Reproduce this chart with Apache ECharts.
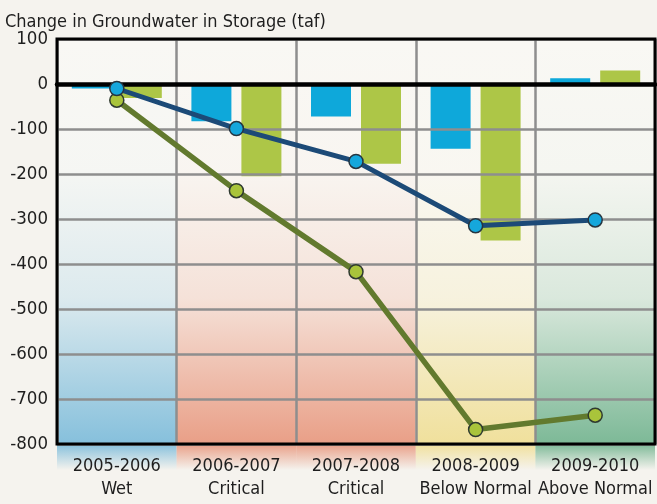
<!DOCTYPE html>
<html>
<head>
<meta charset="utf-8">
<style>
  html, body { margin: 0; padding: 0; background: #f5f3ee; }
  #chart { width: 657px; height: 504px; }
</style>
<script src="https://cdn.jsdelivr.net/npm/echarts@6/dist/echarts.min.js"></script>
</head>
<body>
<div id="chart"></div>
<script>
// Water years and their classification
const years = ['2005-2006', '2006-2007', '2007-2008', '2008-2009', '2009-2010'];
const yearTypes = ['Wet', 'Critical', 'Critical', 'Below Normal', 'Above Normal'];

// Annual change in groundwater storage (taf)
const annualBlue = [-10, -83, -72, -144, 13];
const annualGreen = [-31, -205, -177, -348, 30];

// Cumulative change in groundwater storage (taf)
const cumulativeBlue = [-10, -99, -172, -315, -302];
const cumulativeGreen = [-36, -237, -417, -768, -736];

// Value axis ticks
const yTicks = [100, 0, -100, -200, -300, -400, -500, -600, -700, -800];

// Background tint for each year type
const yearTypeTints = ['#86c0dc', '#e99f87', '#e99f87', '#f0e09c', '#7db997'];

const FONT = '"Liberation Sans Narrow", "Arial Narrow", "DejaVu Sans Condensed", sans-serif';
const yMax = Math.max(...yTicks);
const yMin = Math.min(...yTicks);
const categories = years.map((y, i) => y + '\n' + yearTypes[i]);

function rgba(hex, a) {
  const n = parseInt(hex.slice(1), 16);
  return 'rgba(' + ((n >> 16) & 255) + ',' + ((n >> 8) & 255) + ',' + (n & 255) + ',' + a + ')';
}

const chart = echarts.init(document.getElementById('chart'), null, { renderer: 'canvas' });

const option = {
  backgroundColor: '#f5f3ee',
  animation: false,
  title: {
    text: 'Change in Groundwater in Storage (taf)',
    left: 0,
    top: 5,
    textStyle: { fontFamily: FONT, fontSize: 18, fontWeight: 'normal', color: '#1e1e1e', lineHeight: 24 }
  },
  grid: {
    left: 57, right: 2, top: 39, bottom: 60,
    show: true, borderColor: '#000', borderWidth: 3, z: 3
  },
  xAxis: [
    {
      type: 'category',
      data: categories,
      boundaryGap: true,
      z: 2,
      axisLine: { show: false, onZero: false },
      axisTick: { show: false },
      axisLabel: {
        interval: 0, margin: 11,
        fontFamily: FONT, fontSize: 18, lineHeight: 23, color: '#1e1e1e'
      },
      splitLine: { show: true, interval: 0, lineStyle: { color: '#8e8e8e', width: 2.5 } }
    },
    {
      // heavy zero line
      type: 'category',
      data: categories,
      z: 3,
      axisLine: { show: true, onZero: true, lineStyle: { color: '#000', width: 4.5 } },
      axisTick: { show: false },
      axisLabel: { show: false },
      splitLine: { show: false }
    }
  ],
  yAxis: {
    type: 'value',
    min: yMin, max: yMax, interval: 100,
    z: 2,
    axisLine: { show: false },
    axisTick: { show: false },
    axisLabel: { margin: 9, fontFamily: FONT, fontSize: 18.5, color: '#1e1e1e' },
    splitLine: { show: true, lineStyle: { color: '#8e8e8e', width: 2.5 } }
  },
  series: [
    {
      // shaded column behind each water year
      name: 'yearType',
      type: 'custom',
      xAxisIndex: 0,
      z: 0,
      clip: false,
      silent: true,
      data: years.map((y, i) => [i, yMin]),
      renderItem: function (params, api) {
        const i = api.value(0);
        const top = api.coord([i, yMax]);
        const bot = api.coord([i, yMin]);
        const w = api.size([1, 0])[0];
        const x = top[0] - w / 2;
        const ext = 26;
        const h = bot[1] - top[1];
        const c = yearTypeTints[i];
        const edge = h / (h + ext);
        return {
          type: 'group',
          children: [
            { type: 'rect', shape: { x: x, y: top[1], width: w, height: h }, style: { fill: '#f9f8f4' } },
            {
              type: 'rect',
              shape: { x: x, y: top[1], width: w, height: h + ext },
              style: {
                fill: new echarts.graphic.LinearGradient(0, 0, 0, 1, [
                  { offset: 0, color: rgba(c, 0) },
                  { offset: 0.3, color: rgba(c, 0.03) },
                  { offset: 0.6, color: rgba(c, 0.25) },
                  { offset: edge, color: rgba(c, 1) },
                  { offset: 1, color: rgba(c, 0) }
                ])
              }
            }
          ]
        };
      }
    },
    {
      name: 'annualBlue',
      type: 'bar',
      z: 1,
      barWidth: 40,
      barGap: '25%',
      itemStyle: { color: '#0ea8da' },
      data: annualBlue
    },
    {
      name: 'annualGreen',
      type: 'bar',
      z: 1,
      barWidth: 40,
      barGap: '25%',
      itemStyle: { color: '#adc647' },
      data: annualGreen
    },
    {
      name: 'cumulativeGreen',
      type: 'line',
      z: 4,
      symbol: 'circle',
      symbolSize: 14,
      lineStyle: { color: '#627a2e', width: 5.5, join: 'round' },
      itemStyle: { color: '#a9c43b', borderColor: '#2f3a30', borderWidth: 1.5 },
      data: cumulativeGreen
    },
    {
      name: 'cumulativeBlue',
      type: 'line',
      z: 5,
      symbol: 'circle',
      symbolSize: 14,
      lineStyle: { color: '#1c4a77', width: 5, join: 'round' },
      itemStyle: { color: '#15a7dc', borderColor: '#263540', borderWidth: 1.5 },
      data: cumulativeBlue
    }
  ]
};

chart.setOption(option);
</script>
</body>
</html>
